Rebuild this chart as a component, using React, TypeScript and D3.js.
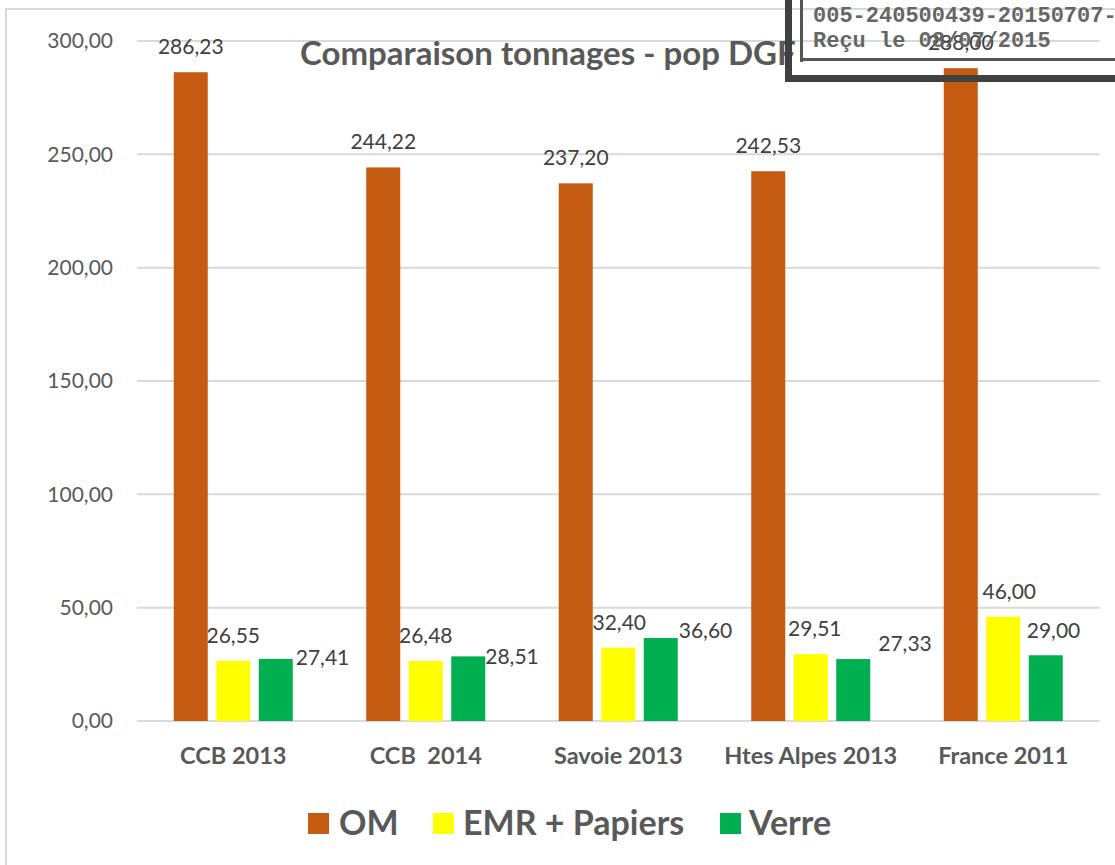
import React from "react";
import * as d3 from "d3";

const categories = ["CCB 2013", "CCB  2014", "Savoie 2013", "Htes Alpes 2013", "France 2011"];
const seriesNames = ["OM", "EMR + Papiers", "Verre"];
const omValues = [286.23, 244.22, 237.2, 242.53, 288.0];
const emrValues = [26.55, 26.48, 32.4, 29.51, 46.0];
const verreValues = [27.41, 28.51, 36.6, 27.33, 29.0];
const yTicks = [0, 50, 100, 150, 200, 250, 300];

const colors = ["#c55a11", "#ffff00", "#00b050"];

// data labels were dragged by hand in the source, keep their nudges apart
const emrLabelDx = [0, 0, 1, 4, 6];
const verreLabelNudge: [number, number][] = [
  [3, 6],
  [0, 8],
  [1, 0],
  [8, -8],
  [-36, -17],
];

const W = 1115;
const H = 865;
const plot = { left: 137, right: 1099.5, top: 41, bottom: 721 };

const locale = d3.formatLocale({
  decimal: ",",
  thousands: " ",
  grouping: [3],
  currency: ["", " €"],
});
const fmt = locale.format(".2f");

const App: React.FC = () => {
  const x0 = d3.scaleBand<string>().domain(categories).range([plot.left, plot.right]);
  const groupW = 119;
  const x1 = d3
    .scaleBand<number>()
    .domain([0, 1, 2])
    .range([0, groupW])
    .paddingInner(0.2);
  const y = d3.scaleLinear().domain([0, 300]).range([plot.bottom, plot.top]);

  const series = [omValues, emrValues, verreValues];
  const barX = (ci: number, si: number) =>
    (x0(categories[ci]) ?? 0) + (x0.bandwidth() - groupW) / 2 + (x1(si) ?? 0);

  const labelFont = "Lato, 'Open Sans', sans-serif";

  const legendItems = [
    { x: 308, textX: 339 },
    { x: 433, textX: 463 },
    { x: 720, textX: 749 },
  ];

  return (
    <svg
      width={W}
      height={H}
      style={{ position: "absolute", left: 0, top: 0, background: "#fff" }}
      fontFamily={labelFont}
    >
      <rect x={0} y={0} width={W} height={H} fill="#fff" />
      <rect x={6} y={9} width={W + 20} height={H + 20} fill="none" stroke="#d9d9d9" strokeWidth={2} />

      {/* gridlines + y labels */}
      <g>
        {yTicks.map((t) => (
          <g key={t}>
            <line
              x1={plot.left}
              x2={plot.right}
              y1={y(t)}
              y2={y(t)}
              stroke="#d9d9d9"
              strokeWidth={2}
            />
            <text
              x={113}
              y={y(t)}
              dy="0.35em"
              textAnchor="end"
              fontSize={21}
              fill="#595959"
            >
              {fmt(t)}
            </text>
          </g>
        ))}
      </g>

      {/* title */}
      <text x={300} y={65} fontSize={33} fontWeight="bold" fill="#595959">
        Comparaison tonnages - pop DGF
      </text>

      {/* bars */}
      {series.map((vals, si) => (
        <g key={si}>
          {vals.map((v, ci) => (
            <rect
              key={ci}
              x={barX(ci, si)}
              y={y(v)}
              width={x1.bandwidth()}
              height={y(0) - y(v)}
              fill={colors[si]}
            />
          ))}
        </g>
      ))}

      {/* labels */}
      <g fontSize={21} fill="#404040">
        {omValues.map((v, ci) => (
          <text
            key={"om" + ci}
            x={barX(ci, 0) + x1.bandwidth() / 2}
            y={y(v) - 18}
            textAnchor="middle"
          >
            {fmt(v)}
          </text>
        ))}
        {emrValues.map((v, ci) => (
          <text
            key={"emr" + ci}
            x={barX(ci, 1) + x1.bandwidth() / 2 + emrLabelDx[ci]}
            y={y(v) - 18}
            textAnchor="middle"
          >
            {fmt(v)}
          </text>
        ))}
        {verreValues.map((v, ci) => (
          <text
            key={"v" + ci}
            x={barX(ci, 2) + x1.bandwidth() + verreLabelNudge[ci][0]}
            y={y(v) + verreLabelNudge[ci][1]}
            textAnchor="start"
          >
            {fmt(v)}
          </text>
        ))}
      </g>

      {/* category axis */}
      {categories.map((c) => (
        <text
          key={c}
          x={(x0(c) ?? 0) + x0.bandwidth() / 2}
          y={764}
          textAnchor="middle"
          fontSize={23.5}
          fontWeight="bold"
          fill="#595959"
          style={{ whiteSpace: "pre" }}
        >
          {c}
        </text>
      ))}

      {/* legend */}
      {seriesNames.map((n, i) => (
        <g key={n}>
          <rect x={legendItems[i].x} y={813} width={21} height={21} fill={colors[i]} />
          <text
            x={legendItems[i].textX}
            y={835}
            fontSize={34}
            fontWeight="bold"
            fill="#595959"
          >
            {n}
          </text>
        </g>
      ))}

      {/* reception stamp laid over the top right corner */}
      <g>
        <rect x={785} y={-10} width={7} height={92} fill="#404040" />
        <rect x={785} y={75} width={W} height={7} fill="#404040" />
        <rect x={800} y={-10} width={3} height={72} fill="#555" />
        <rect x={800} y={58} width={W} height={3} fill="#555" />
        <g
          fontFamily="'Liberation Mono', 'DejaVu Sans Mono', monospace"
          fontSize={22}
          fontWeight="bold"
          fill="#666"
        >
          <text x={813} y={22}>005-240500439-20150707-</text>
          <text x={813} y={47}>Reçu le 08/07/2015</text>
        </g>
      </g>
    </svg>
  );
};

export default App;
